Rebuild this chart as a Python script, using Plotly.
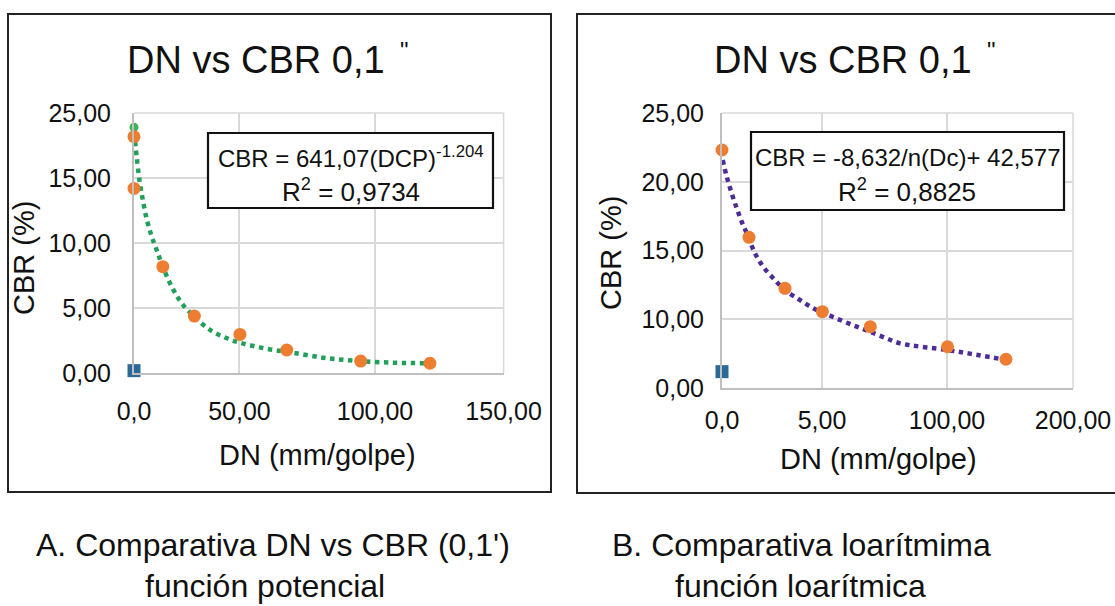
import plotly.graph_objects as go

W, H = 1115, 606

# ---------------- data (in axis units) ----------------
# Panel A (potential fit)
a_dn = [0.0, 0.0, 11.7, 24.5, 43.0, 62.0, 92.0, 120.1]
a_cbr = [18.18, 14.2, 8.18, 4.38, 2.97, 1.77, 0.92, 0.75]
a_green_dn = [0.0]
a_green_cbr = [18.9]
a_blue_dn = [0.0]
a_blue_cbr = [0.18]
a_trend_dn = [0.45, 1.1, 2.2, 3.6, 5.2, 7.2, 9.2, 11.7, 15.3, 19.4, 24.5, 30.9,
              37.7, 43.0, 49.8, 56.6, 62.0, 76.7, 91.3, 105.9, 120.1]
a_trend_cbr = [17.8, 16.6, 14.85, 13.3, 11.8, 10.5, 9.46, 8.18, 6.64, 5.36, 4.33,
               3.31, 2.67, 2.33, 2.02, 1.77, 1.64, 1.18, 0.92, 0.79, 0.75]
a_xtickvals = [0, 42.8, 97.8, 150]
a_xticktext = ["0,0", "50,00", "100,00", "150,00"]
a_ytickvals = [0, 5, 10, 15, 20]
a_yticktext = ["0,00", "5,00", "10,00", "15,00", "25,00"]

# Panel B (logarithmic fit)
b_dn = [0.0, 15.4, 35.9, 57.2, 84.5, 128.5, 161.8]
b_cbr = [22.31, 15.96, 12.25, 10.55, 9.46, 8.0, 7.09]
b_blue_dn = [0.0]
b_blue_cbr = [6.19]
b_trend_dn = [0.4, 2.7, 5.5, 8.4, 11.2, 14.1, 18.8, 23.5, 29.2, 35.9, 44.4, 52.0,
              57.7, 67.2, 76.8, 84.3, 93.8, 101.4, 128.5, 145.7, 161.8]
b_trend_cbr = [21.58, 20.37, 19.16, 18.07, 17.1, 16.25, 14.8, 13.82, 12.98, 12.13,
               11.4, 10.8, 10.48, 9.95, 9.46, 9.1, 8.61, 8.25, 7.76, 7.4, 7.04]
b_xtickvals = [0, 57, 128.2, 200]
b_xticktext = ["0,0", "5,00", "100,00", "200,00"]
b_ytickvals = [5, 10, 15, 20, 25]
b_yticktext = ["0,00", "10,00", "15,00", "20,00", "25,00"]

# ---------------- styles ----------------
ORANGE = "#ED7D31"
GREEN_PT = "#3FB35A"
BLUE = "#2B6A96"
GREEN_LN = "#22A05A"
PURPLE = "#4E2C98"
GRID = "#D9D9D9"
AXIS = "#BFBFBF"
TXT = "#111111"
FONT = "Liberation Sans, Arial, sans-serif"


def px(x):
    return x / W


def py(y):
    return 1 - y / H


fig = go.Figure()

# Panel A traces
fig.add_trace(go.Scatter(x=a_trend_dn, y=a_trend_cbr, mode="lines", line_shape="spline",
                         line=dict(color=GREEN_LN, width=4.5, dash="4.5px,4.5px"),
                         xaxis="x", yaxis="y", showlegend=False, cliponaxis=False))
fig.add_trace(go.Scatter(x=a_blue_dn, y=a_blue_cbr, mode="markers",
                         marker=dict(symbol="square", size=13, color=BLUE),
                         xaxis="x", yaxis="y", showlegend=False, cliponaxis=False))
fig.add_trace(go.Scatter(x=a_green_dn, y=a_green_cbr, mode="markers",
                         marker=dict(size=9, color=GREEN_PT),
                         xaxis="x", yaxis="y", showlegend=False, cliponaxis=False))
fig.add_trace(go.Scatter(x=a_dn, y=a_cbr, mode="markers",
                         marker=dict(size=13, color=ORANGE),
                         xaxis="x", yaxis="y", showlegend=False, cliponaxis=False))

# Panel B traces
fig.add_trace(go.Scatter(x=b_trend_dn, y=b_trend_cbr, mode="lines", line_shape="spline",
                         line=dict(color=PURPLE, width=4.5, dash="4.5px,4.5px"),
                         xaxis="x2", yaxis="y2", showlegend=False, cliponaxis=False))
fig.add_trace(go.Scatter(x=b_blue_dn, y=b_blue_cbr, mode="markers",
                         marker=dict(symbol="square", size=13, color=BLUE),
                         xaxis="x2", yaxis="y2", showlegend=False, cliponaxis=False))
fig.add_trace(go.Scatter(x=b_dn, y=b_cbr, mode="markers",
                         marker=dict(size=13, color=ORANGE),
                         xaxis="x2", yaxis="y2", showlegend=False, cliponaxis=False))

common = dict(showgrid=True, gridcolor=GRID, gridwidth=1.5, zeroline=False,
              showline=True, linecolor=AXIS, linewidth=2, ticks="",
              tickfont=dict(family=FONT, size=25, color=TXT), tickmode="array",
              fixedrange=True, automargin=False)

fig.update_layout(
    width=W, height=H,
    margin=dict(l=0, r=0, t=0, b=0, autoexpand=False),
    paper_bgcolor="white", plot_bgcolor="white",
    xaxis=dict(common, domain=[px(134), px(503.6)], range=[0, 150],
               tickvals=a_xtickvals, ticktext=a_xticktext, anchor="y",
               ticklabelstandoff=15),
    yaxis=dict(common, domain=[py(373), py(113)], range=[0, 20],
               tickvals=a_ytickvals, ticktext=a_yticktext, anchor="x",
               ticklabelstandoff=16),
    xaxis2=dict(common, domain=[px(722), px(1073)], range=[0, 200],
                tickvals=b_xtickvals, ticktext=b_xticktext, anchor="y2",
                ticklabelstandoff=9),
    yaxis2=dict(common, domain=[py(388), py(113)], range=[5, 25],
                tickvals=b_ytickvals, ticktext=b_yticktext, anchor="x2",
                ticklabelstandoff=11),
)

shapes = []
# top and right plot borders
for xd, yd in [("x domain", "y domain"), ("x2 domain", "y2 domain")]:
    shapes.append(dict(type="line", xref=xd, yref=yd, x0=0, x1=1, y0=1, y1=1,
                       line=dict(color=GRID, width=1.5), layer="below"))
    shapes.append(dict(type="line", xref=xd, yref=yd, x0=1, x1=1, y0=0, y1=1,
                       line=dict(color=GRID, width=1.5), layer="below"))
# outer panel boxes
shapes.append(dict(type="rect", xref="paper", yref="paper", x0=px(8), x1=px(551),
                   y0=py(492), y1=py(14), line=dict(color="#222222", width=2)))
shapes.append(dict(type="rect", xref="paper", yref="paper", x0=px(577), x1=px(1125),
                   y0=py(493), y1=py(14), line=dict(color="#222222", width=2)))
# equation boxes
shapes.append(dict(type="rect", xref="paper", yref="paper", x0=px(208), x1=px(493),
                   y0=py(208), y1=py(133), line=dict(color="#111111", width=2.2),
                   fillcolor="white", layer="above"))
shapes.append(dict(type="rect", xref="paper", yref="paper", x0=px(751), x1=px(1064),
                   y0=py(210), y1=py(132), line=dict(color="#111111", width=2.2),
                   fillcolor="white", layer="above"))
fig.update_layout(shapes=shapes)


def ann(text, x, y, size, angle=0, xanchor="center"):
    return dict(text=text, x=px(x), y=py(y), xref="paper", yref="paper",
                showarrow=False, xanchor=xanchor, yanchor="middle", textangle=angle,
                font=dict(family=FONT, size=size, color=TXT))


annotations = [
    # titles
    ann("DN vs CBR 0,1", 256, 60, 38),
    ann("\"", 404, 50, 24),
    ann("DN vs CBR 0,1", 843, 60, 38),
    ann("\"", 991, 50, 24),
    # axis titles
    ann("DN (mm/golpe)", 317, 455, 29),
    ann("CBR (%)", 24, 258, 29, angle=-90),
    ann("DN (mm/golpe)", 878, 459, 29),
    ann("CBR (%)", 611, 253, 29, angle=-90),
    # equations
    ann("CBR = 641,07(DCP)<sup>-1.204</sup>", 351, 157, 24),
    ann("R<sup>2</sup> = 0,9734", 351, 190, 26),
    ann("CBR = -8,632/n(Dc)+ 42,577", 908, 157, 24),
    ann("R<sup>2</sup> = 0,8825", 907, 190, 26),
    # captions
    ann("A. Comparativa DN vs CBR (0,1')", 273, 545, 32),
    ann("función potencial", 265, 586, 32),
    ann("B. Comparativa loarítmima", 801, 545, 32),
    ann("función loarítmica", 800, 586, 32),
]
fig.update_layout(annotations=annotations)

fig.write_html("out.html", config={"displayModeBar": False},
               post_script="document.body.style.margin='0';document.body.style.overflow='hidden';")
